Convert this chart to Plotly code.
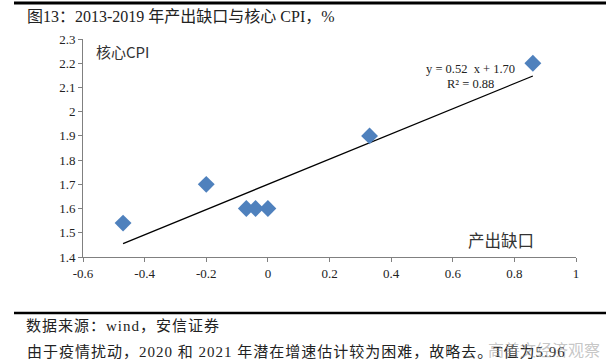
import plotly.graph_objects as go

output_gap = [-0.47, -0.20, -0.07, -0.04, 0.00, 0.33, 0.86]
core_cpi = [1.54, 1.70, 1.60, 1.60, 1.60, 1.90, 2.20]
trend_slope = 0.52
trend_intercept = 1.70
r_squared = 0.88
x_ticks = [-0.6, -0.4, -0.2, 0, 0.2, 0.4, 0.6, 0.8, 1]
x_tick_labels = ["-0.6", "-0.4", "-0.2", "0", "0.2", "0.4", "0.6", "0.8", "1"]
y_ticks = [1.4, 1.5, 1.6, 1.7, 1.8, 1.9, 2.0, 2.1, 2.2, 2.3]
y_tick_labels = ["1.4", "1.5", "1.6", "1.7", "1.8", "1.9", "2", "2.1", "2.2", "2.3"]

title_text = "图13：2013-2019 年产出缺口与核心 CPI，%"
source_text = "数据来源：wind，安信证券"
note_text = "由于疫情扰动，2020 和 2021 年潜在增速估计较为困难，故略去。T值为5.96"

SERIF = "Liberation Serif, Noto Sans CJK SC, serif"
CJK = "Noto Sans CJK SC, sans-serif"

W, H = 610, 363
L, R, T, B = 83, 576, 39, 257
PW, PH = R - L, B - T


def px(x):
    return (x - L) / PW


def py(y):
    return (B - y) / PH


x0, x1 = min(output_gap), max(output_gap)
trend_x = [x0, x1]
trend_y = [trend_slope * v + trend_intercept for v in trend_x]

fig = go.Figure()
fig.add_trace(go.Scatter(x=trend_x, y=trend_y, mode="lines",
                         line=dict(color="black", width=1.3), hoverinfo="skip"))
fig.add_trace(go.Scatter(x=output_gap, y=core_cpi, mode="markers",
                         marker=dict(symbol="diamond", size=13, color="#4F81BD",
                                     line=dict(width=0))))

fig.update_layout(
    width=W, height=H,
    margin=dict(l=L, r=W - R, t=T, b=H - B, autoexpand=False),
    paper_bgcolor="white", plot_bgcolor="white",
    showlegend=False,
    font=dict(family=SERIF, size=12, color="#222"),
)
axis_style = dict(showgrid=False, zeroline=False, showline=True, linecolor="#808080",
                  linewidth=1, ticks="outside", ticklen=4, tickcolor="#808080",
                  tickfont=dict(family=SERIF, size=13, color="#222"))
fig.update_xaxes(range=[-0.6, 1], tickvals=x_ticks, ticktext=x_tick_labels, **axis_style)
fig.update_yaxes(range=[1.4, 2.3], tickvals=y_ticks, ticktext=y_tick_labels, **axis_style)

ann = [
    dict(xref="paper", yref="paper", x=px(25), y=py(16), xanchor="left", yanchor="middle",
         text=title_text, showarrow=False, font=dict(family=SERIF, size=16, color="#222")),
    dict(xref="paper", yref="paper", x=px(94), y=py(52), xanchor="left", yanchor="middle",
         text="核心CPI", showarrow=False, font=dict(family=CJK, size=15, color="#333")),
    dict(xref="paper", yref="paper", x=px(536), y=py(240), xanchor="right", yanchor="middle",
         text="产出缺口", showarrow=False, font=dict(family=CJK, size=16.5, color="#333")),
    dict(xref="paper", yref="paper", x=px(470), y=py(69), xanchor="center", yanchor="middle",
         text=f"y = {trend_slope:.2f}  x + {trend_intercept:.2f}", showarrow=False,
         font=dict(family=SERIF, size=12.5, color="#222")),
    dict(xref="paper", yref="paper", x=px(470), y=py(84), xanchor="center", yanchor="middle",
         text=f"R² = {r_squared:.2f}", showarrow=False,
         font=dict(family=SERIF, size=12.5, color="#222")),
    dict(xref="paper", yref="paper", x=px(24), y=py(326), xanchor="left", yanchor="middle",
         text=f'<span style="letter-spacing:1px">{source_text}</span>', showarrow=False,
         font=dict(family=SERIF, size=15, color="#222")),
    dict(xref="paper", yref="paper", x=px(25), y=py(351), xanchor="left", yanchor="middle",
         text=f'<span style="letter-spacing:1px">{note_text}</span>', showarrow=False,
         font=dict(family=SERIF, size=15, color="#222")),
    dict(xref="paper", yref="paper", x=px(602), y=py(349), xanchor="right", yanchor="middle",
         text="高善文经济观察", showarrow=False,
         font=dict(family=CJK, size=16, color="rgba(150,150,150,0.55)")),
]
fig.update_layout(annotations=ann)

shapes = [
    dict(type="line", xref="paper", yref="paper", x0=px(14), x1=px(606),
         y0=py(3), y1=py(3), line=dict(color="black", width=3)),
    dict(type="line", xref="paper", yref="paper", x0=px(14), x1=px(606),
         y0=py(313), y1=py(313), line=dict(color="black", width=2.5)),
]
fig.update_layout(shapes=shapes)

fig.write_html("out.html", config={"displayModeBar": False},
               post_script="document.body.style.margin='0';")
